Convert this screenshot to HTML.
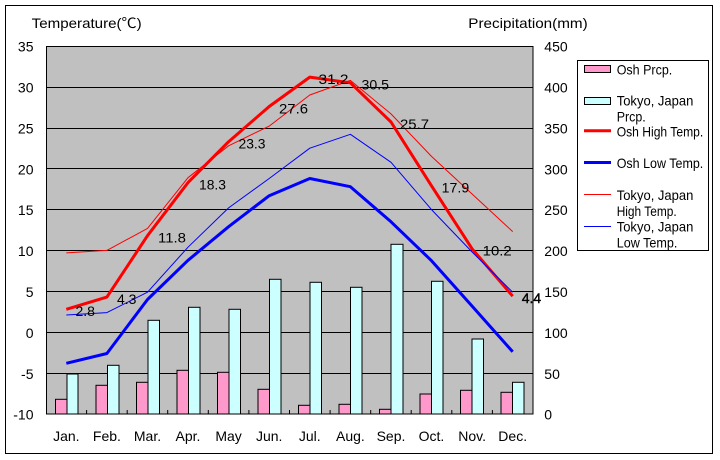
<!DOCTYPE html>
<html><head><meta charset="utf-8"><style>
html,body{margin:0;padding:0;background:#fff;}
svg{display:block;}
text{font-family:"Liberation Sans","Noto Sans CJK JP",sans-serif;fill:#000;}
</style></head><body>
<svg width="720" height="460" viewBox="0 0 720 460" xmlns="http://www.w3.org/2000/svg">
<rect x="0" y="0" width="720" height="460" fill="#fff"/>
<rect x="5.5" y="5.5" width="707" height="448" fill="none" stroke="#000" stroke-width="1"/>
<!-- plot area -->
<rect x="46" y="46" width="487" height="368" fill="#C0C0C0"/>
<g stroke="#000" stroke-width="1">
<line x1="46" y1="87.5" x2="533" y2="87.5"/>
<line x1="46" y1="128.5" x2="533" y2="128.5"/>
<line x1="46" y1="168.5" x2="533" y2="168.5"/>
<line x1="46" y1="209.5" x2="533" y2="209.5"/>
<line x1="46" y1="250.5" x2="533" y2="250.5"/>
<line x1="46" y1="291.5" x2="533" y2="291.5"/>
<line x1="46" y1="332.5" x2="533" y2="332.5"/>
<line x1="46" y1="373.5" x2="533" y2="373.5"/>
</g>
<!-- bars -->
<g stroke="#000" stroke-width="1">
<rect x="55.5" y="399.3" width="11.5" height="14.7" fill="#FF99CC"/>
<rect x="67" y="374" width="11" height="40" fill="#CCFFFF"/>
<rect x="96" y="385.3" width="11.5" height="28.7" fill="#FF99CC"/>
<rect x="107.5" y="365.3" width="11.5" height="48.7" fill="#CCFFFF"/>
<rect x="136.5" y="382.3" width="11.5" height="31.7" fill="#FF99CC"/>
<rect x="148" y="320.3" width="11.5" height="93.7" fill="#CCFFFF"/>
<rect x="177" y="370.3" width="11.5" height="43.7" fill="#FF99CC"/>
<rect x="188.5" y="307.3" width="11.5" height="106.7" fill="#CCFFFF"/>
<rect x="217.5" y="372.3" width="11.5" height="41.7" fill="#FF99CC"/>
<rect x="229" y="309.3" width="11.5" height="104.7" fill="#CCFFFF"/>
<rect x="258" y="389.3" width="11.5" height="24.7" fill="#FF99CC"/>
<rect x="269.5" y="279.3" width="11.5" height="134.7" fill="#CCFFFF"/>
<rect x="298.5" y="405.3" width="11.5" height="8.7" fill="#FF99CC"/>
<rect x="310" y="282.3" width="11.5" height="131.7" fill="#CCFFFF"/>
<rect x="339" y="404.3" width="11.5" height="9.7" fill="#FF99CC"/>
<rect x="350.5" y="287.3" width="11.5" height="126.7" fill="#CCFFFF"/>
<rect x="379.5" y="409.3" width="11.5" height="4.7" fill="#FF99CC"/>
<rect x="391" y="244.3" width="12" height="169.7" fill="#CCFFFF"/>
<rect x="420" y="394" width="11.5" height="20" fill="#FF99CC"/>
<rect x="431.5" y="281.3" width="11.5" height="132.7" fill="#CCFFFF"/>
<rect x="460.5" y="390.3" width="11.5" height="23.7" fill="#FF99CC"/>
<rect x="472" y="339" width="11.5" height="75" fill="#CCFFFF"/>
<rect x="501" y="392.3" width="11.5" height="21.7" fill="#FF99CC"/>
<rect x="512.5" y="382.3" width="11.5" height="31.7" fill="#CCFFFF"/>
</g>
<!-- plot border -->
<rect x="46.5" y="46.5" width="486.5" height="367.5" fill="none" stroke="#000" stroke-width="1"/>
<!-- ticks -->
<g stroke="#000" stroke-width="1">
<line x1="86.6" y1="410" x2="86.6" y2="414"/>
<line x1="127.2" y1="410" x2="127.2" y2="414"/>
<line x1="167.7" y1="410" x2="167.7" y2="414"/>
<line x1="208.3" y1="410" x2="208.3" y2="414"/>
<line x1="248.9" y1="410" x2="248.9" y2="414"/>
<line x1="289.5" y1="410" x2="289.5" y2="414"/>
<line x1="330.1" y1="410" x2="330.1" y2="414"/>
<line x1="370.7" y1="410" x2="370.7" y2="414"/>
<line x1="411.2" y1="410" x2="411.2" y2="414"/>
<line x1="451.8" y1="410" x2="451.8" y2="414"/>
<line x1="492.4" y1="410" x2="492.4" y2="414"/>
</g>
<!-- lines -->
<g fill="none" stroke-linejoin="round">
<polyline stroke="#FF0000" stroke-width="3" points="66.3,309.3 106.9,297.1 147.5,235.7 188,182.6 228.6,141.7 269.2,106.5 309.8,77.1 350.4,82.8 391,122 431.5,185.8 472.1,248.8 512.7,296.2"/>
<polyline stroke="#0000FF" stroke-width="3" points="66.3,363.3 106.9,353.5 147.5,299.5 188,260.3 228.6,226.7 269.2,195.7 309.8,178.5 350.4,186.7 391,221.8 431.5,260.7 472.1,306.1 512.7,351.8"/>
<polyline stroke="#FF0000" stroke-width="1" points="66.3,252.9 106.9,250.4 147.5,228.4 188,177.7 228.6,145.8 269.2,126.1 309.8,95 350.4,80.4 391,113.9 431.5,156.4 472.1,194 512.7,231.6"/>
<polyline stroke="#0000FF" stroke-width="1" points="66.3,315 106.9,312.6 147.5,292.2 188,247.2 228.6,207.9 269.2,178.5 309.8,148.2 350.4,134.3 391,162.3 431.5,209.6 472.1,252 512.7,292.2"/>
</g>
<!-- data labels -->
<g font-size="14">
<text x="75.5" y="316">2.8</text>
<text x="117" y="304">4.3</text>
<text x="158" y="242.5" textLength="28" lengthAdjust="spacingAndGlyphs">11.8</text>
<text x="199" y="189.3" textLength="27" lengthAdjust="spacingAndGlyphs">18.3</text>
<text x="238.5" y="148.5" textLength="27" lengthAdjust="spacingAndGlyphs">23.3</text>
<text x="279" y="113.3" textLength="29" lengthAdjust="spacingAndGlyphs">27.6</text>
<text x="318.5" y="84" textLength="30" lengthAdjust="spacingAndGlyphs">31.2</text>
<text x="361.5" y="89.5" textLength="27.5" lengthAdjust="spacingAndGlyphs">30.5</text>
<text x="400" y="128.8" textLength="29" lengthAdjust="spacingAndGlyphs">25.7</text>
<text x="441.7" y="192.5" textLength="27.5" lengthAdjust="spacingAndGlyphs">17.9</text>
<text x="482.7" y="255.5" textLength="29" lengthAdjust="spacingAndGlyphs">10.2</text>
<text x="521.7" y="303" stroke="#000" stroke-width="0.4">4.4</text>
</g>
<!-- left axis labels -->
<g font-size="14" text-anchor="end">
<text x="33.5" y="51.7">35</text>
<text x="33.5" y="92.6">30</text>
<text x="33.5" y="133.5">25</text>
<text x="33.5" y="174.3">20</text>
<text x="33.5" y="215.2">15</text>
<text x="33.5" y="256.1">10</text>
<text x="33.5" y="297">5</text>
<text x="33.5" y="337.9">0</text>
<text x="33.5" y="378.8">-5</text>
<text x="33.5" y="419.7">-10</text>
</g>
<!-- right axis labels -->
<g font-size="14">
<text x="544.3" y="51.7">450</text>
<text x="544.3" y="92.6">400</text>
<text x="544.3" y="133.5">350</text>
<text x="544.3" y="174.3">300</text>
<text x="544.3" y="215.2">250</text>
<text x="544.3" y="256.1">200</text>
<text x="544.3" y="297">150</text>
<text x="544.3" y="337.9">100</text>
<text x="544.3" y="378.8">50</text>
<text x="544.3" y="419.7">0</text>
</g>
<!-- month labels -->
<g font-size="14" text-anchor="middle">
<text x="66.3" y="441">Jan.</text>
<text x="106.9" y="441">Feb.</text>
<text x="147.5" y="441">Mar.</text>
<text x="188" y="441">Apr.</text>
<text x="228.6" y="441">May</text>
<text x="269.2" y="441">Jun.</text>
<text x="309.8" y="441">Jul.</text>
<text x="350.4" y="441">Aug.</text>
<text x="391" y="441">Sep.</text>
<text x="431.5" y="441">Oct.</text>
<text x="472.1" y="441">Nov.</text>
<text x="512.7" y="441">Dec.</text>
</g>
<!-- axis titles -->
<text x="31.7" y="28" font-size="14" textLength="110" lengthAdjust="spacingAndGlyphs">Temperature(℃)</text>
<text x="468.3" y="28" font-size="14" textLength="119.4" lengthAdjust="spacingAndGlyphs">Precipitation(mm)</text>
<!-- legend -->
<rect x="577.5" y="60.5" width="131" height="190" fill="#fff" stroke="#000" stroke-width="1"/>
<rect x="584.5" y="65.5" width="26" height="7" fill="#FF99CC" stroke="#000" stroke-width="1"/>
<rect x="584.5" y="97.5" width="26" height="7" fill="#CCFFFF" stroke="#000" stroke-width="1"/>
<line x1="584" y1="130.7" x2="611" y2="130.7" stroke="#FF0000" stroke-width="3"/>
<line x1="584" y1="162.5" x2="611" y2="162.5" stroke="#0000FF" stroke-width="3"/>
<line x1="584" y1="194.5" x2="611" y2="194.5" stroke="#FF0000" stroke-width="1"/>
<line x1="584" y1="226.5" x2="611" y2="226.5" stroke="#0000FF" stroke-width="1"/>
<g font-size="14">
<text x="616.7" y="74.3" textLength="55.6" lengthAdjust="spacingAndGlyphs">Osh Prcp.</text>
<text x="616.7" y="105.5" textLength="76.7" lengthAdjust="spacingAndGlyphs">Tokyo, Japan</text>
<text x="616.7" y="121.5" textLength="29" lengthAdjust="spacingAndGlyphs">Prcp.</text>
<text x="616.7" y="136.5" textLength="86.6" lengthAdjust="spacingAndGlyphs">Osh High Temp.</text>
<text x="616.7" y="168" textLength="86.6" lengthAdjust="spacingAndGlyphs">Osh Low Temp.</text>
<text x="616.7" y="200" textLength="76.7" lengthAdjust="spacingAndGlyphs">Tokyo, Japan</text>
<text x="616.7" y="216" textLength="60" lengthAdjust="spacingAndGlyphs">High Temp.</text>
<text x="616.7" y="231.7" textLength="76.7" lengthAdjust="spacingAndGlyphs">Tokyo, Japan</text>
<text x="616.7" y="247.5" textLength="60.7" lengthAdjust="spacingAndGlyphs">Low Temp.</text>
</g>
</svg>
</body></html>
